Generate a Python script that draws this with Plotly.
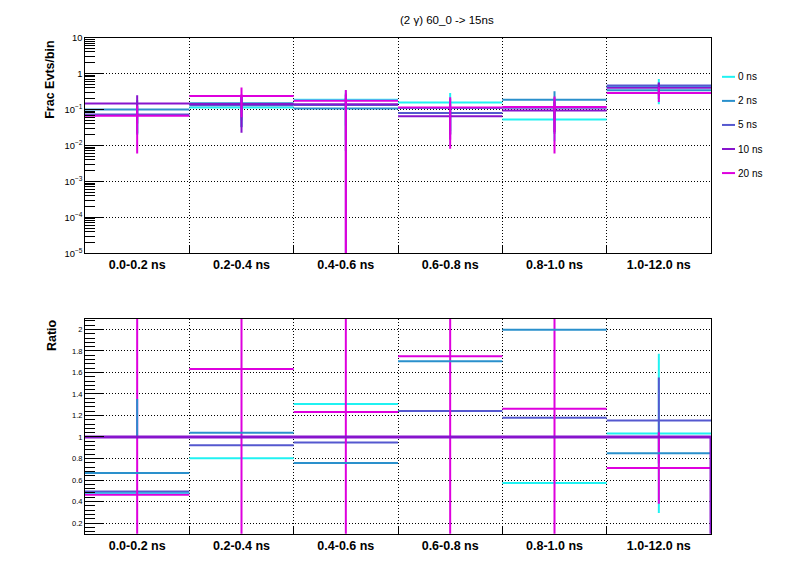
import numpy as np
import plotly.graph_objects as go

# ---------------- data ----------------
bins = ["0.0-0.2 ns", "0.2-0.4 ns", "0.4-0.6 ns", "0.6-0.8 ns", "0.8-1.0 ns", "1.0-12.0 ns"]
series = ["0 ns", "2 ns", "5 ns", "10 ns", "20 ns"]

# fraction of events per bin (top panel) and symmetric errors
frac_0ns = [0.070, 0.113, 0.185, 0.155, 0.053, 0.420]
frac_2ns = [0.100, 0.150, 0.107, 0.110, 0.187, 0.345]
frac_5ns = [0.072, 0.132, 0.134, 0.080, 0.111, 0.466]
frac_10ns = [0.1455, 0.1426, 0.140, 0.0643, 0.0937, 0.404]
frac_20ns = [0.067, 0.236, 0.174, 0.1126, 0.118, 0.288]

err_0ns = [0.05, 0.08, 0.15, 0.13, 0.04, 0.28]
err_2ns = [0.08, 0.10, 0.10, 0.09, 0.136, 0.15]
err_5ns = [0.05, 0.10, 0.12, 0.06, 0.09, 0.09]
err_10ns = [0.105, 0.12, 0.14, 0.05, 0.07, 0.16]
err_20ns = [0.061, 0.175, 0.175, 0.1045, 0.112, 0.126]

# ratio to 10 ns (bottom panel)
ratio_0ns = [0.48, 0.803, 1.307, 2.41, 0.573, 1.033]
ratio_2ns = [0.665, 1.04, 0.757, 1.705, 1.997, 0.849]
ratio_5ns = [0.494, 0.923, 0.948, 1.242, 1.18, 1.153]
ratio_10ns = [1.0, 1.0, 1.0, 1.0, 1.0, 1.0]
ratio_20ns = [0.462, 1.632, 1.233, 1.751, 1.263, 0.711]

rerr_0ns = [0.0, 0.0, 0.0, 0.0, 0.0, 0.74]
# visible 2 ns bar in the first bin runs from the unity line up to ~1.35
rerr_2ns_up = [0.688, 0.0, 0.0, 0.0, 0.0, 0.0]
rerr_2ns_dn = [-0.335, 0.0, 0.0, 0.0, 0.0, 0.0]
rerr_5ns = [0.0, 0.0, 0.0, 0.0, 0.0, 0.40]
rerr_20ns = [2.5, 2.5, 2.5, 2.5, 2.5, 0.332]

title = "(2 γ) 60_0 -> 15ns"

# ---------------- styles ----------------
colors = {"0 ns": "#20f2f2", "2 ns": "#2a90cc", "5 ns": "#5558cf",
          "10 ns": "#8714cd", "20 ns": "#de00de"}
FONT = "Liberation Sans, Arial, Helvetica, sans-serif"
DOT = "1px,2px"

edges = np.arange(len(bins) + 1, dtype=float)
centers = (edges[:-1] + edges[1:]) / 2
half = np.diff(edges) / 2

# page body has an 8px margin: figure is drawn 8px in from the window corner
OFF = 8
W, H = 796 - 2 * OFF, 572 - 2 * OFF


def px_x(p):
    return (p - OFF) / W


def px_y(p):
    return (H - (p - OFF)) / H


fig = go.Figure()

top = {"0 ns": (frac_0ns, err_0ns), "2 ns": (frac_2ns, err_2ns), "5 ns": (frac_5ns, err_5ns),
       "10 ns": (frac_10ns, err_10ns), "20 ns": (frac_20ns, err_20ns)}
for name in series:
    vals, errs = top[name]
    c = colors[name]
    fig.add_trace(go.Scatter(
        x=centers, y=vals, mode="markers", marker=dict(size=1, color=c, opacity=0),
        error_x=dict(type="data", array=half, width=0, thickness=2, color=c),
        error_y=dict(type="data", array=errs, width=0, thickness=2, color=c),
        xaxis="x", yaxis="y", showlegend=False, hoverinfo="skip"))

bottom = [("0 ns", ratio_0ns, rerr_0ns, rerr_0ns),
          ("5 ns", ratio_5ns, rerr_5ns, rerr_5ns),
          ("20 ns", ratio_20ns, rerr_20ns, rerr_20ns),
          ("2 ns", ratio_2ns, rerr_2ns_up, rerr_2ns_dn)]
for name, vals, eup, edn in bottom:
    c = colors[name]
    fig.add_trace(go.Scatter(
        x=centers, y=vals, mode="markers", marker=dict(size=1, color=c, opacity=0),
        error_x=dict(type="data", array=half, width=0, thickness=2, color=c),
        error_y=dict(type="data", symmetric=False, array=eup, arrayminus=edn,
                     width=0, thickness=2, color=c),
        xaxis="x2", yaxis="y2", showlegend=False, hoverinfo="skip"))

# reference (10 ns / 10 ns) drawn as a histogram step line
ref_x = list(edges) + [edges[-1]]
ref_y = list(ratio_10ns) + [ratio_10ns[-1], 0.0]
fig.add_trace(go.Scatter(x=ref_x, y=ref_y, mode="lines", line=dict(color=colors["10 ns"], width=3, shape="hv"),
                         xaxis="x2", yaxis="y2", showlegend=False, hoverinfo="skip"))

xdom = [px_x(85), px_x(711)]
ydom_top = [px_y(252.7), px_y(33)]
ydom_bot = [px_y(538.3), px_y(319.3)]

xcommon = dict(range=[edges[0], edges[-1]], tickmode="array", tickvals=centers,
               ticktext=["<b>%s</b>" % b for b in bins], ticks="", showgrid=False,
               showline=True, linecolor="black", linewidth=1, mirror=True, zeroline=False,
               tickfont=dict(family=FONT, size=12.5, color="black"),
               minor=dict(tickmode="array", tickvals=list(edges[1:-1]), ticks="inside", ticklen=7,
                          tickcolor="black", showgrid=True, gridcolor="black", griddash=DOT, gridwidth=1),
               domain=xdom, fixedrange=True)

fig.update_layout(
    width=W, height=H, margin=dict(l=0, r=0, t=0, b=0),
    paper_bgcolor="white", plot_bgcolor="white", showlegend=False,
    xaxis=dict(anchor="y", **xcommon),
    xaxis2=dict(anchor="y2", **xcommon),
    yaxis=dict(type="log", range=[-5, 1], domain=ydom_top, anchor="x",
               tickmode="linear", tick0=0, dtick=1, exponentformat="power",
               ticks="inside", ticklen=19, tickcolor="black",
               showgrid=True, gridcolor="black", griddash=DOT, gridwidth=1,
               minor=dict(dtick="D1", ticks="inside", ticklen=10, tickcolor="black", showgrid=False),
               showline=True, linecolor="black", linewidth=1, mirror=True, zeroline=False,
               tickfont=dict(family=FONT, size=7.5, color="black")),
    yaxis2=dict(range=[0.1, 2.1], domain=ydom_bot, anchor="x2",
                tickmode="linear", tick0=0, dtick=0.2,
                ticks="inside", ticklen=19, tickcolor="black",
                showgrid=True, gridcolor="black", griddash=DOT, gridwidth=1,
                minor=dict(tick0=0, dtick=0.04, ticks="inside", ticklen=10, tickcolor="black", showgrid=False),
                showline=True, linecolor="black", linewidth=1, mirror=True, zeroline=False,
                tickfont=dict(family=FONT, size=7.5, color="black")),
)

annotations = [
    dict(text=title, x=px_x(447), y=px_y(15), xref="paper", yref="paper", showarrow=False,
         xanchor="center", yanchor="middle", font=dict(family=FONT, size=11.5, color="black")),
    dict(text="<b>Frac Evts/bin</b>", x=px_x(50), y=px_y(76), xref="paper", yref="paper",
         showarrow=False, textangle=-90, xanchor="center", yanchor="middle",
         font=dict(family=FONT, size=12.5, color="black")),
    dict(text="<b>Ratio</b>", x=px_x(52), y=px_y(336), xref="paper", yref="paper",
         showarrow=False, textangle=-90, xanchor="center", yanchor="middle",
         font=dict(family=FONT, size=12.5, color="black")),
]
shapes = []
for i, name in enumerate(series):
    ypx = 73 + 24.5 * i
    shapes.append(dict(type="line", xref="paper", yref="paper", x0=px_x(722), x1=px_x(735),
                       y0=px_y(ypx), y1=px_y(ypx), line=dict(color=colors[name], width=2)))
    annotations.append(dict(text=name, x=px_x(736), y=px_y(ypx), xref="paper", yref="paper",
                            showarrow=False, xanchor="left", yanchor="middle",
                            font=dict(family=FONT, size=10, color="black")))
fig.update_layout(annotations=annotations, shapes=shapes)

fig.write_html("out.html")
